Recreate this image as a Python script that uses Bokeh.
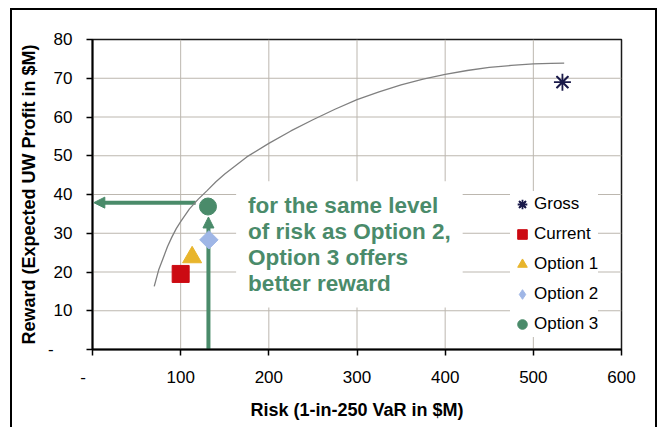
import math
from bokeh.plotting import figure
from bokeh.models import (Legend, LegendItem, Arrow, NormalHead, Label,
                          FixedTicker, Range1d)
from bokeh.embed import file_html
from bokeh.resources import INLINE

# ---- data ----
frontier_risk = [70, 75, 80, 85, 90, 95, 100, 110, 120, 130, 140, 150, 175, 200, 225, 250,
                 275, 300, 325, 350, 375, 400, 425, 450, 475, 500, 520, 535]
frontier_reward = [16.3, 20.5, 23.5, 26.5, 29.0, 31.2, 33.0, 36.3, 38.8, 41.0, 43.3, 45.3,
                   49.7, 53.2, 56.4, 59.3, 62.0, 64.5, 66.5, 68.3, 69.8, 71.0, 72.0, 72.8,
                   73.3, 73.7, 73.85, 73.9]

series_names = ["Gross", "Current", "Option 1", "Option 2", "Option 3"]
series_risk = [533, 100, 113, 132, 131]
series_reward = [69.0, 19.5, 23.8, 28.3, 36.9]

x_ticks = [0, 100, 200, 300, 400, 500, 600]
x_tick_labels = ["-", "100", "200", "300", "400", "500", "600"]
y_ticks = [0, 10, 20, 30, 40, 50, 60, 70, 80]
y_tick_labels = ["-", "10", "20", "30", "40", "50", "60", "70", "80"]

note_lines = ["for the same level", "of risk as Option 2,", "Option 3 offers", "better reward"]

# arrows: Option 3 reward level read back to the axis, and Option 2 risk level
arrow_reward = 37.9
arrow_risk = 131.5

FONT = "Liberation Sans"
GREEN = "#4a8b6a"
GRID = "#bcb7af"
NB = "\u00a0"

x0, x1 = x_ticks[0], x_ticks[-1]
y0, y1 = y_ticks[0], y_ticks[-1]

p = figure(width=647, height=419, x_range=Range1d(x0, x1), y_range=Range1d(y0, y1),
           output_backend="svg", toolbar_location=None,
           min_border_left=80, min_border_right=38, min_border_top=29, min_border_bottom=80,
           background_fill_color="white", border_fill_color="white")
p.styles = {"margin-left": "10px", "margin-top": "8px", "border-top": "2px solid black",
            "border-left": "2px solid black", "border-right": "2px solid black",
            "background-color": "white"}

p.outline_line_color = "#1a1a1a"
p.outline_line_width = 1.5

p.xaxis.ticker = FixedTicker(ticks=x_ticks)
p.yaxis.ticker = FixedTicker(ticks=y_ticks)
xl = dict(zip(x_ticks, x_tick_labels))
xl[0] = "-" + NB * 4
yl = dict(zip(y_ticks, y_tick_labels))
yl[0] = "-" + NB * 4
p.xaxis.major_label_overrides = xl
p.yaxis.major_label_overrides = yl

for ax in (p.xaxis, p.yaxis):
    ax.axis_line_color = "black"
    ax.axis_line_width = 2
    ax.major_tick_line_color = "black"
    ax.major_tick_line_width = 1.5
    ax.major_tick_out = 6
    ax.major_tick_in = 0
    ax.minor_tick_out = 0
    ax.minor_tick_in = 0
    ax.major_label_text_font = FONT
    ax.major_label_text_font_size = "17px"
    ax.major_label_text_color = "black"
    ax.axis_label_text_font = FONT
    ax.axis_label_text_font_size = "18px"
    ax.axis_label_text_font_style = "bold"
    ax.axis_label_text_color = "black"

p.xaxis.axis_label = "Risk (1-in-250 VaR in $M)"
p.yaxis.axis_label = "Reward (Expected UW Profit in $M)"
p.yaxis.major_label_standoff = 14
p.xaxis.major_label_standoff = 12
p.yaxis.axis_label_standoff = 6
p.xaxis.axis_label_standoff = 10

# gridlines at the tick positions, drawn as the first glyphs
p.xgrid.visible = False
p.ygrid.visible = False
gx = x_ticks[1:-1]
gy = y_ticks[1:-1]
p.segment(x0=gx, y0=[y0] * len(gx), x1=gx, y1=[y1] * len(gx),
          line_color=GRID, line_width=1)
p.segment(x0=[x0] * len(gy), y0=gy, x1=[x1] * len(gy), y1=gy,
          line_color=GRID, line_width=1)

# arrow shafts (drawn beneath the markers)
p.segment(x0=[117, arrow_risk], y0=[arrow_reward, 0], x1=[10, arrow_risk], y1=[arrow_reward, 32],
          line_color=GREEN, line_width=4)

# frontier curve
p.line(frontier_risk, frontier_reward, line_color="#808080", line_width=1.3)

# points
r_g1 = p.scatter([series_risk[0]], [series_reward[0]], marker="x", size=16,
                 line_color="#1a1a4a", line_width=1.8)
r_g2 = p.scatter([series_risk[0]], [series_reward[0]], marker="asterisk", size=17,
                 line_color="#1a1a4a", line_width=1.8)
r_cur = p.scatter([series_risk[1]], [series_reward[1]], marker="square", size=17,
                  fill_color="#cc0a12", line_color="#cc0a12")
r_o1 = p.scatter([series_risk[2]], [series_reward[2]], marker="triangle", size=19,
                 fill_color="#e8b52c", line_color="#e8b52c")
r_o2 = p.scatter([series_risk[3]], [series_reward[3]], marker="square", size=13,
                 angle=45, angle_units="deg",
                 fill_color="#9fb6e6", line_color="#9fb6e6")
r_o3 = p.scatter([series_risk[4]], [series_reward[4]], marker="circle", size=17,
                 fill_color=GREEN, line_color=GREEN)
# legend swatch for Option 2 (the legend draws markers unrotated)
r_o2_key = p.scatter([math.nan], [math.nan], marker="diamond", size=13,
                     fill_color="#9fb6e6", line_color="#9fb6e6")

# arrow heads
p.add_layout(Arrow(end=NormalHead(size=11, fill_color=GREEN, line_color=GREEN, line_width=1),
                   x_start=20, y_start=arrow_reward, x_end=1.5, y_end=arrow_reward,
                   line_alpha=0))
p.add_layout(Arrow(end=NormalHead(size=11, fill_color=GREEN, line_color=GREEN, line_width=1),
                   x_start=arrow_risk, y_start=25, x_end=arrow_risk, y_end=34.2,
                   line_alpha=0))

# note text on a white box
p.add_layout(Label(x=162.9, y=43.4, text="\n".join(note_lines), text_font=FONT,
                   text_font_size="22.5px", text_font_style="bold", text_color=GREEN,
                   text_align="left", text_baseline="top", text_line_height=1.03,
                   background_fill_color="white", background_fill_alpha=1, padding=12))

legend = Legend(items=[
    LegendItem(label=series_names[0], renderers=[r_g1, r_g2]),
    LegendItem(label=series_names[1], renderers=[r_cur]),
    LegendItem(label=series_names[2], renderers=[r_o1]),
    LegendItem(label=series_names[3], renderers=[r_o2_key]),
    LegendItem(label=series_names[4], renderers=[r_o3]),
], location=(418, 12), background_fill_color="white", background_fill_alpha=1,
    border_line_color=None, padding=3, spacing=4, margin=0,
    glyph_width=24, glyph_height=26, label_height=26, label_standoff=0,
    label_text_font=FONT, label_text_font_size="17px", label_text_color="black")
p.add_layout(legend)

open("out.html", "w").write(file_html(p, INLINE))
